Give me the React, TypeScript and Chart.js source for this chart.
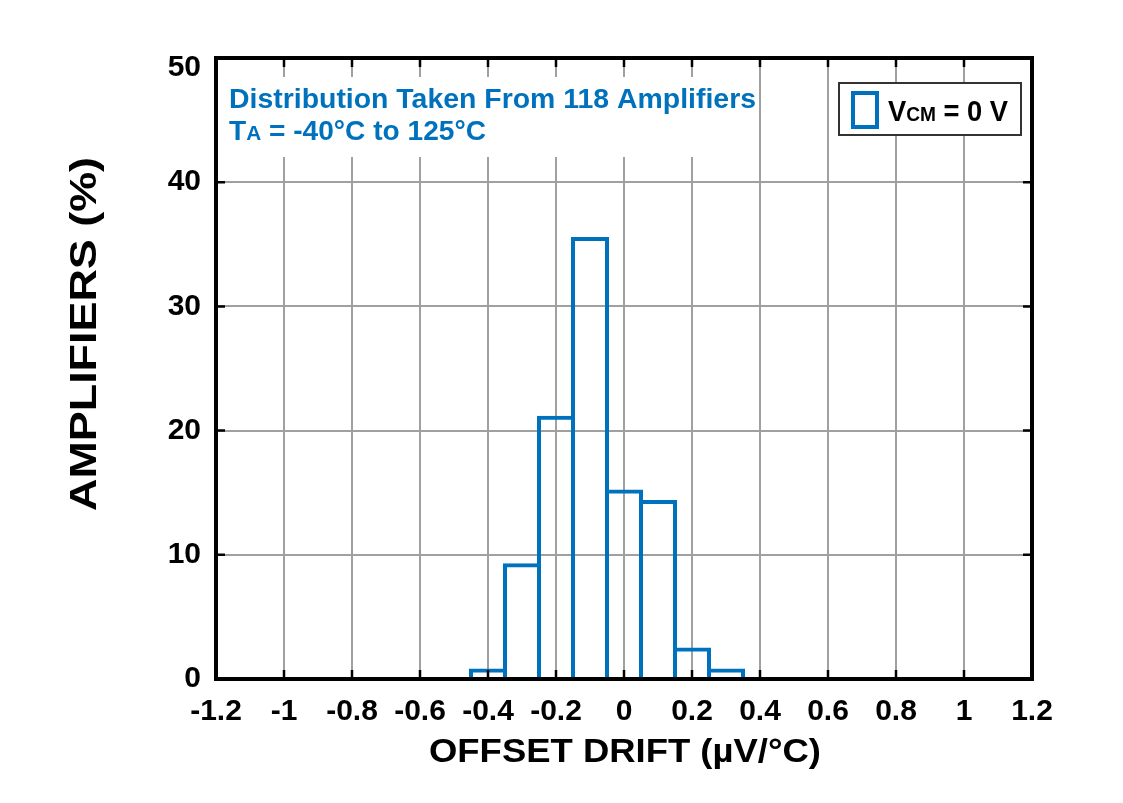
import React, { useEffect, useRef } from 'react';
import { Chart, registerables } from 'chart.js';

Chart.register(...registerables);

// ---- data ----
const BIN_CENTERS = [-0.4, -0.3, -0.2, -0.1, 0, 0.1, 0.2, 0.3];
const PERCENT = [0.85, 9.32, 21.19, 35.59, 15.25, 14.41, 2.54, 0.85];
const X_TICKS = [-1.2, -1, -0.8, -0.6, -0.4, -0.2, 0, 0.2, 0.4, 0.6, 0.8, 1, 1.2];
const X_TICK_LABELS = ['-1.2', '-1', '-0.8', '-0.6', '-0.4', '-0.2', '0', '0.2', '0.4', '0.6', '0.8', '1', '1.2'];
const Y_TICKS = [0, 10, 20, 30, 40, 50];
const Y_TICK_LABELS = ['0', '10', '20', '30', '40', '50'];
const X_TITLE = 'OFFSET DRIFT (µV/°C)';
const Y_TITLE = 'AMPLIFIERS (%)';
const NOTE_LINE1 = 'Distribution Taken From 118 Amplifiers';
const NOTE_LINE2 = ['T', 'A', ' = -40°C to 125°C'];
const LEGEND_TEXT = ['V', 'CM', ' = 0 V'];

const BLUE = '#0072BD';
const FONT = '"Liberation Sans", Arial, Helvetica, sans-serif';

function setFont(ctx: CanvasRenderingContext2D, size: number) {
  ctx.font = `bold ${size}px ${FONT}`;
}

// draws a sequence of [text, size] pieces starting at x, stretched to end at xEnd
function drawPieces(
  ctx: CanvasRenderingContext2D,
  pieces: [string, number][],
  x: number,
  baseline: number,
  xEnd: number,
  color: string
) {
  let total = 0;
  for (const [t, s] of pieces) {
    setFont(ctx, s);
    total += ctx.measureText(t).width;
  }
  const k = (xEnd - x) / total;
  ctx.save();
  ctx.fillStyle = color;
  ctx.textAlign = 'left';
  ctx.textBaseline = 'alphabetic';
  ctx.translate(x, baseline);
  ctx.scale(k, 1);
  let cx = 0;
  for (const [t, s] of pieces) {
    setFont(ctx, s);
    ctx.fillText(t, cx, 0);
    cx += ctx.measureText(t).width;
  }
  ctx.restore();
}

const decorPlugin = {
  id: 'decor',
  afterDraw(chart: any) {
    const ctx: CanvasRenderingContext2D = chart.ctx;
    const { left, right, top, bottom } = chart.chartArea;
    const xs = chart.scales.x;
    const ys = chart.scales.y;

    // annotation box (white background hiding grid)
    ctx.save();
    ctx.fillStyle = '#ffffff';
    ctx.fillRect(left + 2, 77, 757 - left - 2, 80);
    drawPieces(ctx, [[NOTE_LINE1, 27]], 229, 108, 756, BLUE);
    drawPieces(
      ctx,
      [
        [NOTE_LINE2[0], 27],
        [NOTE_LINE2[1], 20],
        [NOTE_LINE2[2], 27],
      ],
      229,
      140,
      486,
      BLUE
    );

    // legend box
    ctx.fillStyle = '#ffffff';
    ctx.fillRect(839, 83, 182, 52);
    ctx.strokeStyle = '#333333';
    ctx.lineWidth = 2;
    ctx.strokeRect(839, 83, 182, 52);
    ctx.strokeStyle = BLUE;
    ctx.lineWidth = 4;
    ctx.strokeRect(853, 93, 24, 34);
    drawPieces(
      ctx,
      [
        [LEGEND_TEXT[0], 30],
        [LEGEND_TEXT[1], 21],
        [LEGEND_TEXT[2], 30],
      ],
      888,
      121,
      1008,
      '#000000'
    );

    // inward tick marks
    ctx.strokeStyle = '#000000';
    ctx.lineWidth = 2.5;
    const tl = 9;
    ctx.beginPath();
    for (const v of X_TICKS) {
      const px = xs.getPixelForValue(v);
      ctx.moveTo(px, bottom);
      ctx.lineTo(px, bottom - tl);
      ctx.moveTo(px, top);
      ctx.lineTo(px, top + tl);
    }
    for (const v of Y_TICKS) {
      const py = ys.getPixelForValue(v);
      ctx.moveTo(left, py);
      ctx.lineTo(left + tl, py);
      ctx.moveTo(right, py);
      ctx.lineTo(right - tl, py);
    }
    ctx.stroke();

    // frame
    ctx.lineWidth = 4;
    ctx.strokeRect(left, top, right - left, bottom - top);

    // axis titles
    ctx.fillStyle = '#000000';
    setFont(ctx, 34);
    ctx.textBaseline = 'alphabetic';
    ctx.textAlign = 'center';
    let w = ctx.measureText(X_TITLE).width;
    ctx.save();
    ctx.translate(625, 762);
    ctx.scale(392 / w, 1);
    ctx.fillText(X_TITLE, 0, 0);
    ctx.restore();

    setFont(ctx, 36);
    w = ctx.measureText(Y_TITLE).width;
    ctx.save();
    ctx.translate(96, 334);
    ctx.rotate(-Math.PI / 2);
    ctx.scale(354 / w, 1);
    ctx.fillText(Y_TITLE, 0, 0);
    ctx.restore();

    ctx.restore();
  },
};

export default function App() {
  const ref = useRef<HTMLCanvasElement | null>(null);

  useEffect(() => {
    document.body.style.margin = '0';
    const canvas = ref.current;
    if (!canvas) return;
    const lastY = Y_TICKS.length - 1;
    const chart = new Chart(canvas, {
      type: 'bar',
      data: {
        datasets: [
          {
            data: BIN_CENTERS.map((x, i) => ({ x, y: PERCENT[i] })),
            backgroundColor: 'rgba(0,0,0,0)',
            borderColor: BLUE,
            borderWidth: 4,
            borderSkipped: 'start',
            barPercentage: 38 / 34,
            categoryPercentage: 1,
          } as any,
        ],
      },
      options: {
        responsive: false,
        animation: false,
        events: [],
        layout: { padding: { top: 58, right: 91, left: 0, bottom: 0 } },
        plugins: {
          legend: { display: false },
          tooltip: { enabled: false },
          title: { display: false },
        },
        scales: {
          x: {
            type: 'linear',
            min: -1.2,
            max: 1.2,
            offset: false,
            afterBuildTicks: (s: any) => {
              s.ticks = X_TICKS.map((v) => ({ value: v }));
            },
            afterFit: (s: any) => {
              s.height = 124;
            },
            grid: { color: '#a0a0a0', lineWidth: 2, drawTicks: false, offset: false },
            border: { display: false },
            ticks: {
              autoSkip: false,
              maxRotation: 0,
              padding: 15,
              color: '#000000',
              font: { family: FONT, size: 30, weight: 'bold' },
              callback: (_v: any, i: number) => X_TICK_LABELS[i],
            },
          },
          y: {
            type: 'linear',
            min: 0,
            max: 50,
            afterBuildTicks: (s: any) => {
              s.ticks = Y_TICKS.map((v) => ({ value: v }));
            },
            afterFit: (s: any) => {
              s.width = 216;
            },
            grid: { color: '#a0a0a0', lineWidth: 2, drawTicks: false },
            border: { display: false },
            ticks: {
              padding: 15,
              color: '#000000',
              font: (c: any) =>
                c.index === lastY
                  ? { family: FONT, size: 30, weight: 'bold', lineHeight: '20px' }
                  : { family: FONT, size: 30, weight: 'bold' },
              callback: (_v: any, i: number) => (i === lastY ? ['', Y_TICK_LABELS[i]] : Y_TICK_LABELS[i]),
            },
          },
        },
      } as any,
      plugins: [decorPlugin],
    });
    return () => chart.destroy();
  }, []);

  return (
    <div style={{ width: 1123, height: 803, background: '#ffffff' }}>
      <canvas ref={ref} width={1123} height={803} style={{ width: 1123, height: 803, display: 'block' }} />
    </div>
  );
}
